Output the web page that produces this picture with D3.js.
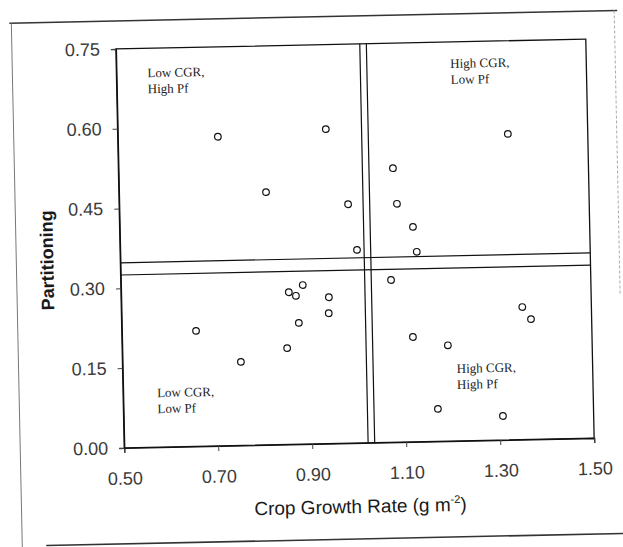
<!DOCTYPE html>
<html>
<head>
<meta charset="utf-8">
<script src="https://cdn.jsdelivr.net/npm/d3@7"></script>
<style>
  body { margin: 0; background: #fff; }
  svg { display: block; }
</style>
</head>
<body>
<svg width="623" height="547"></svg>
<script>
// Crop growth rate (x) and partitioning (y) for each observation
const cgr = [0.713, 0.943, 0.813, 0.987, 1.004, 1.084, 1.091, 1.124, 1.131, 1.330,
             0.658, 0.752, 0.851, 0.857, 0.872, 0.887, 0.877, 0.942, 0.941, 1.075,
             1.353, 1.371, 1.119, 1.193, 1.169, 1.307];
const pf = [0.581, 0.591, 0.475, 0.449, 0.363, 0.515, 0.448, 0.404, 0.357, 0.575,
            0.217, 0.157, 0.181, 0.286, 0.279, 0.299, 0.228, 0.275, 0.245, 0.305,
            0.249, 0.226, 0.197, 0.180, 0.061, 0.045];

// quadrant dividing lines (two of each)
const cgrLines = [1.019, 1.033];
const pfLines = [0.325, 0.348];

const xTicks = [0.5, 0.7, 0.9, 1.1, 1.3, 1.5];
const yTicks = [0, 0.15, 0.30, 0.45, 0.60, 0.75];

const quadrants = [
    ["Low CGR,", "High Pf"],
    ["High CGR,", "Low Pf"],
    ["Low CGR,", "Low Pf"],
    ["High CGR,", "High Pf"]
];

const svg = d3.select("svg");
const box = {left: 120, right: 590, top: 44, bottom: 443};

const x = d3.scaleLinear().domain([0.5, 1.5]).range([box.left, box.right]);
const y = d3.scaleLinear().domain([0, 0.75]).range([box.bottom, box.top]);

// the scanned page is slightly tilted
const g = svg.append("g").attr("transform", "rotate(-1.2 355 243)");

// page frame
const frame = g.append("g").attr("fill", "none");
frame.append("line").attr("x1", 14).attr("x2", 622).attr("y1", 16).attr("y2", 16)
    .attr("stroke", "#333").attr("stroke-width", 1.6);
frame.append("line").attr("x1", 40).attr("x2", 625).attr("y1", 539).attr("y2", 539)
    .attr("stroke", "#333").attr("stroke-width", 1.6);
frame.append("line").attr("x1", 16).attr("x2", 16).attr("y1", 16).attr("y2", 545)
    .attr("stroke", "#777").attr("stroke-width", 1);
frame.append("line").attr("x1", 619).attr("x2", 619).attr("y1", 16).attr("y2", 300)
    .attr("stroke", "#aaa").attr("stroke-width", 1).attr("stroke-dasharray", "3,2");

// plot box
g.append("rect")
    .attr("x", box.left).attr("y", box.top)
    .attr("width", box.right - box.left).attr("height", box.bottom - box.top)
    .attr("fill", "none").attr("stroke", "#111").attr("stroke-width", 1.3);

// axes
const xAxis = g.append("g")
    .attr("transform", `translate(0,${box.bottom})`)
    .call(d3.axisBottom(x).tickValues(xTicks).tickFormat(d3.format(".2f"))
        .tickSize(5).tickPadding(19));
const yAxis = g.append("g")
    .attr("transform", `translate(${box.left},0)`)
    .call(d3.axisLeft(y).tickValues(yTicks).tickFormat(d3.format(".2f"))
        .tickSize(5).tickPadding(11));
[xAxis, yAxis].forEach(a => {
    a.select(".domain").attr("stroke", "#111").attr("stroke-width", 1.3);
    a.selectAll(".tick line").attr("stroke", "#444");
    a.selectAll("text")
        .attr("fill", "#3a3a3a")
        .style("font-family", "'Liberation Sans', Arial, sans-serif")
        .style("font-size", "18px");
});

// dividing lines
g.selectAll(".vline").data(cgrLines).join("line")
    .attr("class", "vline")
    .attr("x1", d => x(d)).attr("x2", d => x(d))
    .attr("y1", box.top).attr("y2", box.bottom)
    .attr("stroke", "#111").attr("stroke-width", 1.2);
g.selectAll(".hline").data(pfLines).join("line")
    .attr("class", "hline")
    .attr("x1", box.left).attr("x2", box.right)
    .attr("y1", d => y(d)).attr("y2", d => y(d))
    .attr("stroke", "#111").attr("stroke-width", 1.2);

// points
g.selectAll(".pt").data(cgr).join("circle")
    .attr("class", "pt")
    .attr("cx", d => x(d))
    .attr("cy", (d, i) => y(pf[i]))
    .attr("r", 3.3)
    .attr("fill", "#fff")
    .attr("stroke", "#111")
    .attr("stroke-width", 1.2);

// quadrant labels
const qPos = [[151, 73], [454, 70], [154, 393], [454, 375]];
quadrants.forEach((lines, i) => {
    const t = g.append("text")
        .attr("x", qPos[i][0]).attr("y", qPos[i][1])
        .attr("fill", "#222")
        .style("font-family", "'Liberation Serif', 'Times New Roman', serif")
        .style("font-size", "13px");
    lines.forEach((s, j) => {
        t.append("tspan").attr("x", qPos[i][0]).attr("dy", j ? 16 : 0).text(s);
    });
});

// axis titles
const xTitle = g.append("text")
    .attr("x", (box.left + box.right) / 2).attr("y", 513)
    .attr("text-anchor", "middle")
    .attr("fill", "#1a1a1a")
    .style("font-family", "'Liberation Sans', Arial, sans-serif")
    .style("font-size", "19px");
xTitle.append("tspan").text("Crop Growth Rate (g m");
xTitle.append("tspan").attr("dy", -8).style("font-size", "11px").text("-2");
xTitle.append("tspan").attr("dy", 8).text(")");

g.append("text")
    .attr("transform", "translate(53,254) rotate(-90)")
    .attr("text-anchor", "middle")
    .attr("fill", "#1a1a1a")
    .style("font-family", "'Liberation Sans', Arial, sans-serif")
    .style("font-size", "18px")
    .style("font-weight", "bold")
    .text("Partitioning");
</script>
</body>
</html>
